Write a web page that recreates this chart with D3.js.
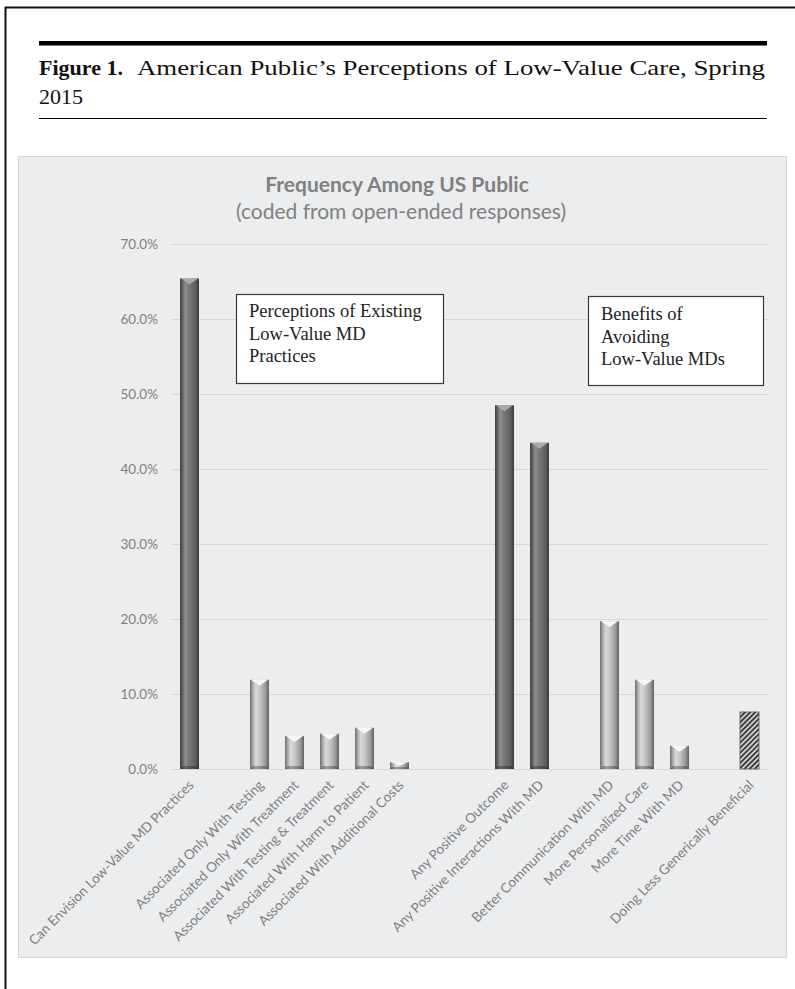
<!DOCTYPE html>
<html>
<head>
<meta charset="utf-8">
<script src="https://cdn.jsdelivr.net/npm/d3@7"></script>
<style>
  html, body { margin: 0; padding: 0; background: #ffffff; }
  svg { display: block; }
</style>
</head>
<body>
<svg id="fig" width="795" height="989"></svg>
<script>
// ---- data -------------------------------------------------------------
const categories = [
  "Can Envision Low-Value MD Practices", "",
  "Associated Only With Testing", "Associated Only With Treatment",
  "Associated With Testing & Treatment", "Associated With Harm to Patient",
  "Associated With Additional Costs", "", "",
  "Any Positive Outcome", "Any Positive Interactions With MD", "",
  "Better Communication With MD", "More Personalized Care", "More Time With MD", "",
  "Doing Less Generically Beneficial"
];
// share of respondents, percent
const values = [65.4, null, 11.9, 4.4, 4.7, 5.5, 0.9, null, null,
                48.5, 43.5, null, 19.7, 11.9, 3.1, null, 7.6];
// which family of codes each bar belongs to
const groups = ["overall", null, "perception", "perception", "perception", "perception", "perception", null, null,
                "overall", "overall", null, "benefit", "benefit", "benefit", null, "generic"];
const yTicks = [0, 10, 20, 30, 40, 50, 60, 70];

const figLabel = "Figure 1.";
const figTitleLine1 = "American Public\u2019s Perceptions of Low-Value Care, Spring";
const figTitleLine2 = "2015";
const chartTitle = "Frequency Among US Public";
const chartSubtitle = "(coded from open-ended responses)";
const boxPerceptions = ["Perceptions of Existing", "Low-Value MD", "Practices"];
const boxBenefits = ["Benefits of", "Avoiding", "Low-Value MDs"];

// ---- layout -----------------------------------------------------------
const svg = d3.select("#fig");
const defs = svg.append("defs");
const serif = "'Liberation Serif', 'Times New Roman', serif";
const sans = "Lato, 'Open Sans', sans-serif";

// page frame (top and left edges)
svg.append("path")
  .attr("d", "M5.5,989 V7.5 H795")
  .attr("fill", "none").attr("stroke", "#111").attr("stroke-width", 2);

// caption rules
const capLeft = 39, capRight = 767, capTextEnd = 765;
svg.append("line").attr("x1", capLeft).attr("x2", capRight).attr("y1", 43.2).attr("y2", 43.2)
  .attr("stroke", "#000").attr("stroke-width", 4.5);
svg.append("line").attr("x1", capLeft).attr("x2", capRight).attr("y1", 118.5).attr("y2", 118.5)
  .attr("stroke", "#000").attr("stroke-width", 1.2);

// caption text, first line set flush to the rule width
const capSize = 22;
const lab = svg.append("text").attr("x", capLeft).attr("y", 75)
  .attr("font-family", serif).attr("font-size", capSize).attr("font-weight", "bold")
  .attr("fill", "#111").text(figLabel);
const labW = lab.node().getComputedTextLength();
const line1X = capLeft + labW + 14;
svg.append("text").attr("x", line1X).attr("y", 75)
  .attr("font-family", serif).attr("font-size", capSize).attr("fill", "#111")
  .attr("textLength", capTextEnd - line1X).attr("lengthAdjust", "spacingAndGlyphs")
  .text(figTitleLine1);
svg.append("text").attr("x", capLeft).attr("y", 104)
  .attr("font-family", serif).attr("font-size", capSize).attr("fill", "#111")
  .text(figTitleLine2);

// chart area
const panel = { x: 18.5, y: 156.5, w: 768, h: 801 };
svg.append("rect")
  .attr("x", panel.x).attr("y", panel.y).attr("width", panel.w).attr("height", panel.h)
  .attr("fill", "#ecedee").attr("stroke", "#d6d6d6").attr("stroke-width", 1);

svg.append("text").attr("x", 397).attr("y", 192)
  .attr("text-anchor", "middle").attr("font-family", sans).attr("font-weight", "bold")
  .attr("font-size", 21).attr("fill", "#808080").text(chartTitle);
svg.append("text").attr("x", 401).attr("y", 219)
  .attr("text-anchor", "middle").attr("font-family", sans)
  .attr("font-size", 21).attr("fill", "#808080").text(chartSubtitle);

const plot = { left: 172, right: 767, top: 244, bottom: 769, gridEnd: 769 };
const x = d3.scaleBand()
  .domain(d3.range(categories.length))
  .range([plot.left, plot.right])
  .paddingInner(0.457).paddingOuter(0.2285);
const y = d3.scaleLinear().domain([0, 70]).range([plot.bottom, plot.top]);

// gridlines
svg.append("g").selectAll("line").data(yTicks).join("line")
  .attr("x1", plot.left).attr("x2", plot.gridEnd)
  .attr("y1", d => Math.round(y(d)) + 0.5).attr("y2", d => Math.round(y(d)) + 0.5)
  .attr("stroke", "#d6d6d6").attr("stroke-width", 1);

// y axis labels
const yAxis = svg.append("g").attr("transform", `translate(${plot.left},0)`)
  .call(d3.axisLeft(y).tickValues(yTicks).tickSize(0).tickPadding(14)
        .tickFormat(d => d.toFixed(1) + "%"));
yAxis.select(".domain").remove();
yAxis.selectAll("text").attr("font-family", sans).attr("font-size", 13.5).attr("fill", "#808080");

// x axis labels, rotated
const xAxis = svg.append("g").attr("transform", `translate(0,${plot.bottom})`)
  .call(d3.axisBottom(x).tickSize(0).tickFormat(i => categories[i]));
xAxis.select(".domain").remove();
xAxis.selectAll("text")
  .attr("font-family", sans).attr("font-size", 13.6).attr("fill", "#808080")
  .attr("text-anchor", "end").attr("y", null).attr("dy", null)
  .attr("transform", "translate(5,17) rotate(-45)");

// ---- bar fills --------------------------------------------------------
function hGradient(id, stops) {
  const g = defs.append("linearGradient").attr("id", id)
    .attr("x1", 0).attr("x2", 1).attr("y1", 0).attr("y2", 0);
  stops.forEach(([o, c]) => g.append("stop").attr("offset", o).attr("stop-color", c));
}
hGradient("gradDark", [[0, "#3f3f3f"], [0.1, "#5a5a5a"], [0.28, "#8e8e8e"], [0.45, "#7a7a7a"],
                       [0.8, "#616161"], [0.92, "#4a4a4a"], [1, "#3a3a3a"]]);
hGradient("gradLight", [[0, "#6a6a6a"], [0.1, "#9a9a9a"], [0.3, "#d9d9d9"], [0.5, "#c9c9c9"],
                        [0.8, "#9d9d9d"], [0.92, "#7a7a7a"], [1, "#5e5e5e"]]);
const hatch = defs.append("pattern").attr("id", "hatch")
  .attr("patternUnits", "userSpaceOnUse").attr("width", 3.6).attr("height", 3.6)
  .attr("patternTransform", "rotate(45)");
hatch.append("rect").attr("width", 3.6).attr("height", 3.6).attr("fill", "#cfcfcf");
hatch.append("rect").attr("width", 1.8).attr("height", 3.6).attr("fill", "#3c3c3c");

const fillFor = { overall: "url(#gradDark)", perception: "url(#gradLight)", benefit: "url(#gradLight)", generic: "url(#hatch)" };

const bars = values.map((v, i) => ({ v, i, g: groups[i] })).filter(d => d.v != null);
const bw = x.bandwidth();

const barG = svg.append("g").selectAll("g").data(bars).join("g");
barG.append("rect")
  .attr("x", d => x(d.i)).attr("width", bw)
  .attr("y", d => y(d.v)).attr("height", d => y(0) - y(d.v))
  .attr("fill", d => fillFor[d.g])
  .attr("stroke", d => d.g === "generic" ? "#555" : "none").attr("stroke-width", 0.8);

// bevelled top: light chevron
barG.filter(d => d.g !== "generic").append("path")
  .attr("d", d => {
    const x0 = x(d.i), x1 = x0 + bw, t = y(d.v), h = y(0) - t;
    const depth = Math.min(6, h * 0.5);
    return `M${x0 + 1},${t} L${x1 - 1},${t} L${x0 + bw / 2},${t + depth} Z`;
  })
  .attr("fill", d => d.g === "overall" ? "#a9a9a9" : "#f7f7f7");

// bevelled bottom: darker lip
barG.filter(d => d.g !== "generic").append("path")
  .attr("d", d => {
    const x0 = x(d.i), x1 = x0 + bw, b = y(0), h = y(0) - y(d.v);
    const lip = Math.min(3, h * 0.3);
    return `M${x0},${b} L${x1},${b} L${x1 - lip},${b - lip} L${x0 + lip},${b - lip} Z`;
  })
  .attr("fill", "rgba(0,0,0,0.28)");

// ---- annotation boxes ---------------------------------------------------
function noteBox(bx, by, w, h, lines, tx, firstBase) {
  const g = svg.append("g");
  g.append("rect").attr("x", bx + 0.5).attr("y", by + 0.5).attr("width", w).attr("height", h)
    .attr("fill", "#ffffff").attr("stroke", "#3a3a3a").attr("stroke-width", 1.2);
  g.append("text").attr("font-family", serif).attr("font-size", 18.5).attr("fill", "#222")
    .selectAll("tspan").data(lines).join("tspan")
    .attr("x", tx).attr("y", (d, k) => firstBase + k * 22.5).text(d => d);
}
noteBox(236, 294, 207, 89, boxPerceptions, 249, 317);
noteBox(588, 296, 175, 89, boxBenefits, 601, 320);
</script>
</body>
</html>
